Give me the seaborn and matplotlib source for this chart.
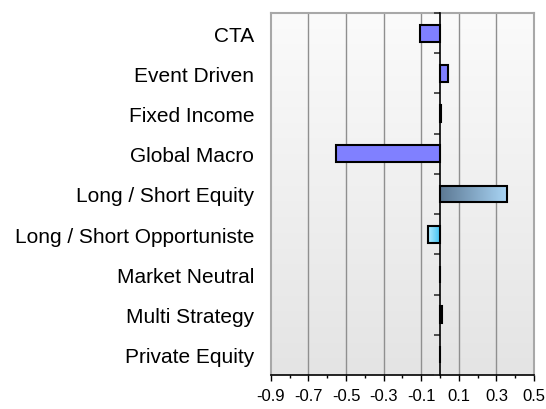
import numpy as np
import matplotlib
matplotlib.use("Agg")
import matplotlib.pyplot as plt
from matplotlib.colors import LinearSegmentedColormap
import seaborn as sns

# --- data ---
categories = ["CTA", "Event Driven", "Fixed Income", "Global Macro",
              "Long / Short Equity", "Long / Short Opportuniste",
              "Market Neutral", "Multi Strategy", "Private Equity"]
values = [-0.105, 0.04, 0.005, -0.555, 0.358, -0.065, 0.0, 0.012, 0.0]
bar_colors = ["#8080ff", "#8080ff", "#8080ff", "#8080ff", "#7f9cbb",
              "#6fd6fa", "#8080ff", "#8080ff", "#8080ff"]
# bars filled with a left-to-right gradient
gradients = {
    "Long / Short Equity": ("#5c7893", "#aad6f6"),
    "Long / Short Opportuniste": ("#38bff2", "#b4ecff"),
}
xticks = [-0.9, -0.7, -0.5, -0.3, -0.1, 0.1, 0.3, 0.5]

sns.set_style("white")
plt.rcParams["font.family"] = ["Liberation Sans", "DejaVu Sans"]

fig = plt.figure(figsize=(5.46, 4.10), dpi=100)
ax = fig.add_axes([0.496, 0.083, 0.482, 0.883])

sns.barplot(x=values, y=categories, hue=categories, palette=bar_colors,
            orient="h", width=0.42, edgecolor="black", linewidth=1.5,
            saturation=1, legend=False, ax=ax, zorder=3)

ax.set_xlim(-0.9, 0.5)
ax.set_ylim(len(categories) - 0.5, -0.5)

# background gradient, white at top to light grey at bottom
bg = LinearSegmentedColormap.from_list("bg", ["#fbfbfb", "#e4e4e4"])
ax.imshow(np.linspace(0, 1, 256).reshape(-1, 1), cmap=bg, aspect="auto",
          extent=[0, 1, 0, 1], transform=ax.transAxes, zorder=0)

# gradient fills on selected bars
for patch, name in zip(ax.patches, categories):
    if name in gradients:
        cmap = LinearSegmentedColormap.from_list(name, list(gradients[name]))
        x0, y0 = patch.get_x(), patch.get_y()
        w, h = patch.get_width(), patch.get_height()
        patch.set_facecolor("none")
        im = ax.imshow(np.linspace(0, 1, 256).reshape(1, -1), cmap=cmap,
                       aspect="auto", extent=[x0, x0 + w, y0 + h, y0],
                       zorder=2.5)
        im.set_clip_path(patch)
ax.set_xlim(-0.9, 0.5)
ax.set_ylim(len(categories) - 0.5, -0.5)

# vertical grid
for xv in xticks[1:-1]:
    ax.axvline(xv, color="#8f8f8f", linewidth=1, zorder=1)

# frame
for side in ["left", "top", "right"]:
    ax.spines[side].set_color("#a8a8a8")
    ax.spines[side].set_linewidth(1.5)
ax.spines["bottom"].set_color("black")
ax.spines["bottom"].set_linewidth(1.2)

ax.set_xticks(xticks)
ax.set_xticklabels([f"{v:.1f}" for v in xticks])
ax.set_xticks(np.arange(-0.8, 0.5, 0.2), minor=True)
ax.tick_params(axis="x", which="major", direction="out", length=4.5, width=1,
               color="black", labelcolor="black", labelsize=12, pad=5,
               bottom=True)
ax.tick_params(axis="x", which="minor", direction="out", length=2.5, width=1,
               color="black", bottom=True)
ax.tick_params(axis="y", length=0, labelsize=15, pad=12, labelcolor="black")
ax.set_xlabel("")
ax.set_ylabel("")

# zero line acting as the category axis, with ticks between categories
ax2 = ax.twinx()
ax2.set_ylim(ax.get_ylim())
ax2.yaxis.tick_left()
for side in ["top", "right", "bottom"]:
    ax2.spines[side].set_visible(False)
ax2.spines["left"].set_position(("data", 0))
ax2.spines["left"].set_color("black")
ax2.spines["left"].set_linewidth(1.2)
ax2.set_yticks(np.arange(len(categories) + 1) - 0.5)
ax2.set_yticklabels([])
ax2.tick_params(axis="y", direction="out", length=4.5, width=1.2,
                color="#333333")

fig.savefig("out.png", dpi=100)
